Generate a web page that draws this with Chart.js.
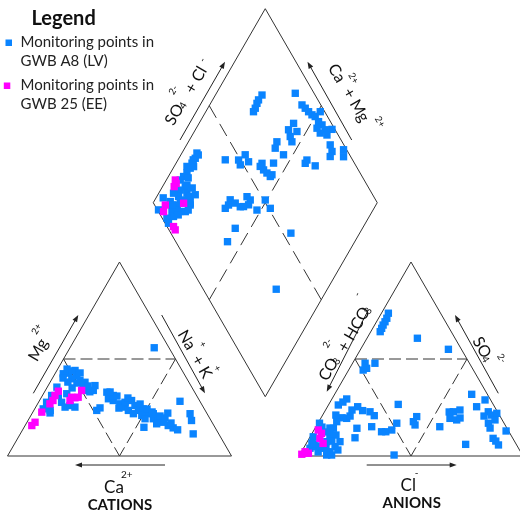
<!DOCTYPE html>
<html>
<head>
<meta charset="utf-8">
<script src="https://cdn.jsdelivr.net/npm/chart.js@4.4.1/dist/chart.umd.min.js"></script>
<style>
  html, body { margin: 0; padding: 0; background: #ffffff; }
  #wrap { width: 520px; height: 512px; }
</style>
</head>
<body>
<div id="wrap"><canvas id="piper" width="520" height="512"></canvas></div>
<script>
// ---- Sample compositions (% of meq) ----
// Cation triangle: [Mg2+, Na+ + K+]  (Ca2+ = 100 - Mg - NaK)
const cationsLV = [
  [55.8, 37.6], [42.4, 3.7], [42.7, 5.8], [44.1, 8.1], [41.5, 10.2], [39.8, 8.8],
  [38.9, 12.9], [38.0, 15.6], [36.3, 20.9], [33.8, 21.4], [36.3, 15.6], [35.5, 4.3],
  [31.2, 4.1], [27.7, 3.6], [24.3, 3.8], [23.5, 7.3], [27.7, 10.3], [25.2, 13.1],
  [26.0, 14.9], [25.2, 17.5], [31.2, 7.1], [32.1, 10.4], [33.8, 17.7], [23.5, 28.1],
  [24.8, 28.9], [32.9, 27.9], [29.5, 30.3], [28.6, 32.9], [26.9, 36.7], [25.2, 39.9],
  [28.6, 41.1], [26.0, 43.9], [23.5, 46.7], [24.3, 48.4], [21.8, 52.0], [19.2, 55.5],
  [18.3, 58.1], [17.4, 60.9], [15.7, 63.9], [14.5, 66.7], [13.5, 69.2], [23.5, 42.2],
  [21.8, 45.3], [20.9, 49.5], [21.8, 54.2], [28.2, 62.9], [22.1, 60.5], [14.8, 53.5],
  [21.8, 70.6], [18.3, 73.0], [11.4, 77.2], [31.2, 31.6], [27.7, 38.6], [19.2, 51.8],
  [16.6, 58.3], [33.1, 20.2], [44.8, 4.2], [43.8, 6.9], [42.8, 11.0], [40.2, 4.7],
  [38.1, 7.9], [37.6, 12.2], [36.1, 17.9], [35.1, 11.3], [26.3, 5.0], [22.2, 7.9],
  [33.0, 29.3], [30.9, 33.4], [29.9, 38.8], [26.8, 45.8], [24.2, 50.2], [22.7, 53.2],
  [20.6, 57.8], [19.6, 60.5], [17.0, 64.5], [24.7, 37.4]
];
const cationsEE = [
  [17.4, 3.6], [15.7, 3.0], [22.6, 4.0], [26.9, 5.5], [31.2, 5.6], [33.4, 6.0],
  [30.3, 13.5], [30.3, 16.4], [33.8, 16.2], [28.6, 13.6], [30.0, 15.1], [28.6, 6.0]
];

// Anion triangle: [SO4 2-, Cl-]  (CO3 2- + HCO3- = 100 - SO4 - Cl)
const anionsLV = [
  [73.6, 3.1], [71.0, 3.7], [69.2, 3.8], [67.5, 3.8], [65.8, 4.0], [64.1, 4.2],
  [60.7, 22.5], [55.0, 39.2], [47.8, 5.6], [45.2, 7.6], [47.8, 10.0], [44.3, 6.5],
  [29.4, 6.6], [26.3, 4.4], [25.4, 13.5], [23.4, 16.7], [22.8, 20.3], [20.8, 23.2],
  [26.6, 31.0], [20.3, 42.4], [17.7, 42.2], [22.8, 57.5], [23.7, 60.0], [19.4, 57.7],
  [18.6, 61.1], [31.8, 61.2], [28.9, 68.6], [22.8, 73.1], [21.1, 75.4], [16.9, 76.1],
  [9.1, 82.1], [5.7, 86.2], [12.9, 86.0], [25.4, 66.6], [15.1, 55.3], [6.0, 71.4],
  [0.5, 42.2], [12.5, 32.5], [13.4, 34.7], [12.5, 30.6], [16.9, 35.2], [14.3, 18.7],
  [9.4, 20.3], [19.7, 9.4], [19.4, 11.6], [20.6, 12.5], [17.7, 8.0], [14.3, 8.2],
  [10.8, 8.4], [7.4, 8.7], [2.2, 12.7], [16.9, 0.7], [9.9, 1.4], [4.8, 13.7],
  [4.0, 8.8], [7.4, 14.6], [4.0, 2.9], [4.8, 5.5], [0.5, 12.1], [0.5, 14.3],
  [12.4, 6.3], [6.7, 2.4], [2.1, 7.5], [15.1, 24.9], [16.0, 43.8], [22.0, 77.3],
  [14.9, 2.8], [14.4, 6.6], [10.8, 11.1], [7.7, 10.8], [4.1, 10.0], [5.2, 6.8],
  [6.2, 3.6], [3.1, 15.8], [23.7, 11.8], [21.1, 5.9], [27.8, 5.7], [18.6, 78.2],
  [20.6, 72.3], [14.4, 78.1], [7.7, 84.0], [22.7, 55.7], [19.6, 62.1]
];
const anionsEE = [
  [11.7, 4.2], [9.1, 4.8], [6.5, 7.5], [2.2, 1.6], [0.9, 0.8], [1.4, 3.5], [13.4, 1.9]
];

// Diamond field: [Ca2+ + Mg2+, SO4 2- + Cl-]
const diamondLV = [
  [79.2, 76.3], [79.5, 73.5], [79.3, 71.9], [78.8, 69.9], [78.7, 68.2], [64.8, 91.6],
  [58.8, 91.6], [56.5, 92.2], [54.1, 92.8], [51.8, 93.5], [49.9, 94.5], [48.9, 98.0],
  [47.1, 94.7], [44.7, 95.4], [42.0, 95.6], [39.1, 98.7], [43.4, 92.5], [39.9, 95.0],
  [46.1, 92.3], [35.9, 93.9], [33.4, 93.0], [32.9, 90.9], [28.7, 98.6], [26.9, 96.8],
  [57.8, 83.1], [58.4, 79.2], [54.2, 82.5], [55.9, 78.2], [53.8, 77.6], [60.5, 70.9],
  [59.6, 68.5], [54.2, 70.5], [42.4, 79.6], [42.3, 78.0], [37.2, 81.8], [71.3, 53.4],
  [68.0, 53.1], [70.9, 48.6], [72.9, 49.1], [78.9, 43.2], [61.6, 58.7], [59.2, 57.7],
  [56.9, 58.4], [54.2, 60.2], [56.5, 63.9], [54.5, 59.0], [61.6, 57.1], [66.4, 35.1],
  [65.8, 33.0], [63.3, 36.5], [60.1, 37.8], [59.7, 43.4], [57.4, 44.0], [56.9, 42.0],
  [58.7, 39.3], [50.7, 50.7], [51.8, 44.4], [46.3, 50.8], [66.4, 30.7], [56.8, 30.0],
  [56.8, 23.1], [30.7, 53.6], [22.8, 32.6], [93.3, 32.3], [92.7, 30.2], [92.9, 27.5],
  [92.4, 25.4], [92.6, 22.7], [93.2, 20.3], [89.8, 18.4], [87.4, 17.5], [85.4, 16.9],
  [91.2, 15.3], [90.3, 12.9], [88.8, 10.0], [85.7, 9.8], [85.1, 18.1], [82.9, 15.9],
  [89.4, 6.1], [87.4, 5.5], [94.3, 24.4], [93.8, 17.9], [89.5, 19.6], [83.4, 16.4],
  [83.4, 12.0], [93.4, 11.5], [92.7, 7.9], [95.8, 0.5], [89.9, 2.1], [87.9, 1.5],
  [91.3, 27.3], [87.8, 11.9], [87.5, 8.7], [92.2, 32.4], [93.2, 28.9], [90.8, 22.0],
  [86.4, 21.2], [83.3, 20.8], [87.3, 14.1], [82.5, 13.7], [85.7, 8.0], [90.9, 7.9],
  [96.8, 5.7]
];
const diamondEE = [
  [96.0, 15.7], [94.8, 13.5], [94.0, 4.8], [93.1, 2.3], [83.2, 2.8], [84.8, 2.9],
  [86.3, 13.4], [94.7, 15.2]
];

const groupNames = ['Monitoring points in GWB A8 (LV)', 'Monitoring points in GWB 25 (EE)'];

// ---- Diagram geometry (in canvas units) ----
const SIDE = 224, HT = 194;
const CAT0 = { x: 7.5, y: 456 };      // Ca2+ corner of the cation triangle
const AN0 = { x: 299, y: 456 };       // CO3+HCO3 corner of the anion triangle
const DIA0 = { x: 265.25, y: 396.7 }; // lower vertex of the diamond

const BLUE = '#0A84FF';
const PINK = '#FF00FF';
const LINE = '#333333';
const FONT = 'Lato, "Open Sans", sans-serif';

function cationPt([mg, nak]) {
  return { x: CAT0.x + SIDE * nak / 100 + SIDE / 2 * mg / 100, y: CAT0.y - HT * mg / 100 };
}
function anionPt([so4, cl]) {
  return { x: AN0.x + SIDE * cl / 100 + SIDE / 2 * so4 / 100, y: AN0.y - HT * so4 / 100 };
}
function diamondPt([caMg, so4cl]) {
  return { x: DIA0.x + SIDE / 2 * (so4cl - caMg) / 100, y: DIA0.y - HT * (caMg + so4cl) / 100 };
}

// Outline and subdivision segments, expressed in each field's own percentages
const frames = [];
function seg(proj, pts, dashed) {
  frames.push({
    data: pts.map(proj),
    showLine: true, pointRadius: 0, borderColor: LINE,
    borderWidth: 1, borderDash: dashed || [], order: 5, fill: false
  });
}
// cation triangle
seg(cationPt, [[0, 0], [0, 100], [100, 0], [0, 0]]);
seg(cationPt, [[50, 0], [50, 50]], [12, 5]);
seg(cationPt, [[50, 0], [0, 50]], [12, 5]);
seg(cationPt, [[50, 50], [0, 50]], [12, 5]);
// anion triangle
seg(anionPt, [[0, 0], [0, 100], [100, 0], [0, 0]]);
seg(anionPt, [[50, 0], [50, 50]], [12, 5]);
seg(anionPt, [[50, 0], [0, 50]], [12, 5]);
seg(anionPt, [[50, 50], [0, 50]], [12, 5]);
// diamond
seg(diamondPt, [[0, 0], [100, 0], [100, 100], [0, 100], [0, 0]]);
seg(diamondPt, [[100, 50], [0, 50]], [14, 7]);
seg(diamondPt, [[50, 100], [50, 0]], [14, 7]);

function pointSet(data, color, order) {
  return {
    data: data, backgroundColor: color, borderColor: color, borderWidth: 0,
    pointStyle: 'rect', pointRadius: 5.2, order: order
  };
}

const datasets = [
  ...frames,
  pointSet([...cationsLV.map(cationPt), ...anionsLV.map(anionPt), ...diamondLV.map(diamondPt)], BLUE, 2),
  pointSet([...cationsEE.map(cationPt), ...anionsEE.map(anionPt), ...diamondEE.map(diamondPt)], PINK, 1)
];

// ---- Text, arrows and legend ----
const annotate = {
  id: 'piperAnnotations',
  afterDraw(chart) {
    const ctx = chart.ctx;
    const sx = v => chart.scales.x.getPixelForValue(v);
    const sy = v => chart.scales.y.getPixelForValue(v);

    function txt(t, x, y, deg, size, bold) {
      ctx.save();
      ctx.translate(sx(x), sy(y));
      ctx.rotate(deg * Math.PI / 180);
      ctx.font = (bold ? 'bold ' : '') + size + 'px ' + FONT;
      ctx.fillStyle = '#111';
      ctx.textAlign = 'center';
      ctx.textBaseline = 'middle';
      ctx.fillText(t, 0, 0);
      ctx.restore();
    }
    function arrow(x1, y1, x2, y2) {
      const X1 = sx(x1), Y1 = sy(y1), X2 = sx(x2), Y2 = sy(y2);
      const a = Math.atan2(Y2 - Y1, X2 - X1);
      ctx.save();
      ctx.strokeStyle = '#222';
      ctx.fillStyle = '#222';
      ctx.lineWidth = 1;
      ctx.beginPath();
      ctx.moveTo(X1, Y1);
      ctx.lineTo(X2 - 4 * Math.cos(a), Y2 - 4 * Math.sin(a));
      ctx.stroke();
      ctx.beginPath();
      ctx.moveTo(X2, Y2);
      ctx.lineTo(X2 - 7 * Math.cos(a) + 2.6 * Math.sin(a), Y2 - 7 * Math.sin(a) - 2.6 * Math.cos(a));
      ctx.lineTo(X2 - 7 * Math.cos(a) - 2.6 * Math.sin(a), Y2 - 7 * Math.sin(a) + 2.6 * Math.cos(a));
      ctx.closePath();
      ctx.fill();
      ctx.restore();
    }

    // cation triangle
    arrow(33.3, 393.3, 78.3, 315);
    txt('Mg', 38.3, 350, -60, 16);
    txt('2+', 36.7, 329, -60, 9.5);
    arrow(161.7, 315, 205, 393.3);
    txt('Na', 186.7, 340, 60, 16);
    txt('+', 202.7, 344.3, 60, 9.5);
    txt('+ K', 201.7, 366.7, 60, 16);
    txt('+', 217.3, 368.3, 60, 9.5);
    arrow(165, 465, 75, 465);
    txt('Ca', 114, 487.5, 0, 17);
    txt('2+', 126.7, 475, 0, 10);
    txt('CATIONS', 120, 505, 0, 15, true);

    // anion triangle
    arrow(368.3, 310, 326.7, 391.7);
    txt('CO', 328.5, 369.3, -60, 16);
    txt('3', 336.6, 361.3, -60, 10);
    txt('2-', 327.3, 343.3, -60, 9.5);
    txt('+ HCO', 354, 329.5, -60, 16);
    txt('3', 368.1, 311, -60, 10);
    txt('-', 357.3, 294.3, -60, 9.5);
    arrow(498.3, 393.3, 455, 315);
    txt('SO', 481.8, 347.4, 60, 16);
    txt('4', 485.2, 359.3, 60, 10);
    txt('2-', 501.7, 358.3, 60, 9.5);
    arrow(366.7, 465, 456.7, 465);
    txt('Cl', 408.3, 486, 0, 17);
    txt('-', 416.7, 473, 0, 10);
    txt('ANIONS', 411.7, 503.5, 0, 15, true);

    // diamond
    arrow(180, 140, 225, 61.7);
    txt('SO', 174.5, 114.6, -60, 16);
    txt('4', 183.1, 105.7, -60, 10);
    txt('2-', 173.3, 90, -60, 9.5);
    txt('+ Cl', 196, 80, -60, 16);
    txt('-', 202.5, 60, -60, 9.5);
    arrow(351.7, 140, 307.5, 61.7);
    txt('Ca', 336.7, 73.3, 60, 16);
    txt('2+', 353.3, 78.3, 60, 9.5);
    txt('+ Mg', 356, 105, 60, 16);
    txt('2+', 380, 121.7, 60, 9.5);

    // legend
    ctx.save();
    ctx.fillStyle = '#111';
    ctx.textBaseline = 'middle';
    ctx.textAlign = 'left';
    ctx.font = 'bold 20px ' + FONT;
    ctx.fillText('Legend', sx(31.5), sy(18.5));
    const items = [
      { color: BLUE, name: groupNames[0], y: 42.5, mx: 8.5 },
      { color: PINK, name: groupNames[1], y: 85.5, mx: 6.8 }
    ];
    items.forEach(it => {
      ctx.fillStyle = it.color;
      ctx.fillRect(sx(it.mx) - 3, sy(it.y) - 3, 6.5, 6.5);
      ctx.fillStyle = '#222';
      ctx.font = '15px ' + FONT;
      const words = it.name.split(' ');
      ctx.fillText(words.slice(0, 3).join(' '), sx(20.5), sy(it.y));
      ctx.fillText(words.slice(3).join(' '), sx(20.5), sy(it.y + 19));
    });
    ctx.restore();
  }
};

new Chart(document.getElementById('piper'), {
  type: 'scatter',
  data: { datasets },
  options: {
    responsive: false,
    animation: false,
    events: [],
    devicePixelRatio: 1,
    layout: { padding: 0, autoPadding: false },
    plugins: { legend: { display: false }, tooltip: { enabled: false } },
    scales: {
      x: { type: 'linear', min: 0, max: 520, display: false },
      y: { type: 'linear', min: 0, max: 512, reverse: true, display: false }
    }
  },
  plugins: [annotate]
});
</script>
</body>
</html>
